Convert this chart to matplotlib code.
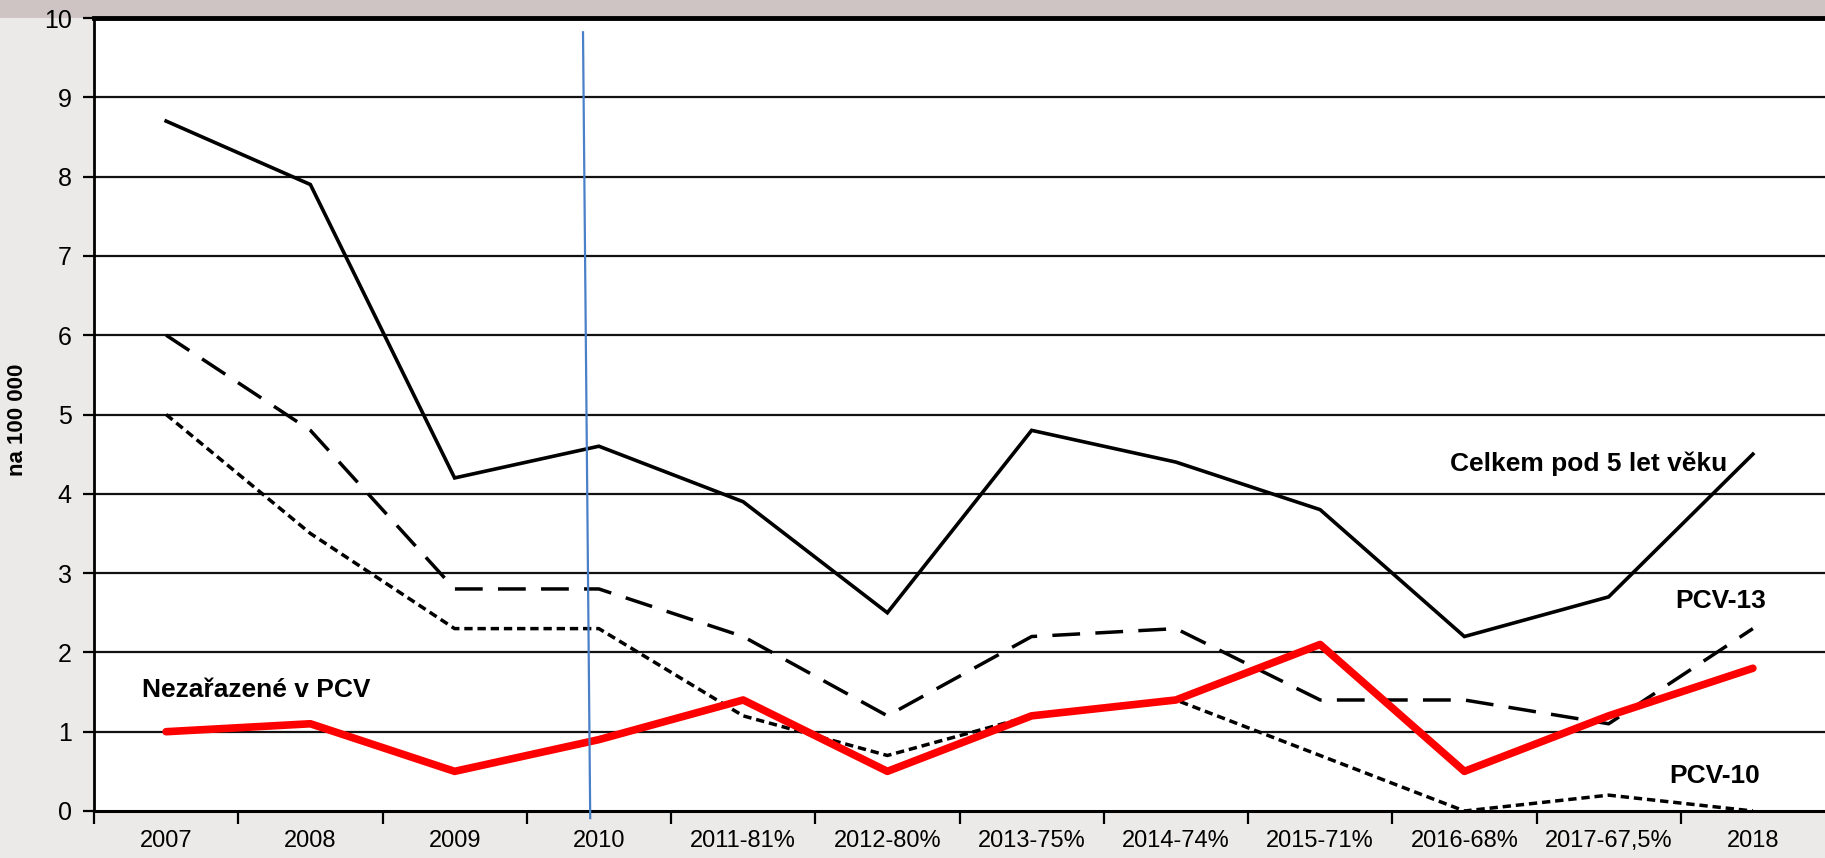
import matplotlib
matplotlib.use("Agg")
import matplotlib.pyplot as plt
from matplotlib.patches import Rectangle
from matplotlib.ticker import FixedLocator, NullFormatter

plt.rcParams['font.family'] = ['Liberation Sans', 'DejaVu Sans']
plt.rcParams['lines.scale_dashes'] = False

categories = ["2007", "2008", "2009", "2010", "2011-81%", "2012-80%", "2013-75%",
              "2014-74%", "2015-71%", "2016-68%", "2017-67,5%", "2018"]
celkem = [8.7, 7.9, 4.2, 4.6, 3.9, 2.5, 4.8, 4.4, 3.8, 2.2, 2.7, 4.5]
pcv13 = [6.0, 4.8, 2.8, 2.8, 2.2, 1.2, 2.2, 2.3, 1.4, 1.4, 1.1, 2.3]
pcv10 = [5.0, 3.5, 2.3, 2.3, 1.2, 0.7, 1.2, 1.4, 0.7, 0.0, 0.2, 0.0]
nezarazene = [1.0, 1.1, 0.5, 0.9, 1.4, 0.5, 1.2, 1.4, 2.1, 0.5, 1.2, 1.8]
yticks = list(range(0, 11))

W, H = 1825, 858
fig = plt.figure(figsize=(W / 100, H / 100), dpi=100, facecolor='#ece9e9')
# top banner
fig.patches.append(Rectangle((0, 1 - 18 / H), 1, 18 / H, transform=fig.transFigure,
                             facecolor='#cec4c3', edgecolor='none', zorder=-5))

left, right, top, bottom = 94, 1825, 18, 811
ax = fig.add_axes([left / W, (H - bottom) / H, (right - left) / W, (bottom - top) / H])
ax.set_facecolor('white')

x = list(range(len(categories)))
ax.set_xlim(-0.5, len(categories) - 0.5)
ax.set_ylim(0, 10)

for yv in yticks[1:-1]:
    ax.axhline(yv, color='#111111', lw=1.6, zorder=1)

ax.plot(x, celkem, color='black', lw=2.6, zorder=3, solid_joinstyle='miter')
ax.plot(x, pcv13, color='black', lw=2.5, dashes=(20, 11), zorder=3)
ax.plot(x, pcv10, color='black', lw=2.5, dashes=(6, 3.5), zorder=3)
ax.plot(x, nezarazene, color='#ff0000', lw=5.5, zorder=4, solid_capstyle='round',
        solid_joinstyle='round')

# vertical marker line (vaccination start)
ax.plot([2.89, 2.94], [9.82, -0.09], color='#4a80c8', lw=1.6, zorder=5, clip_on=False)

ax.spines['right'].set_visible(False)
ax.spines['top'].set_linewidth(3.5)
ax.spines['bottom'].set_linewidth(2.2)
ax.spines['left'].set_linewidth(2.0)

ax.set_yticks(yticks)
ax.tick_params(axis='y', length=8, width=1.6, pad=8, labelsize=18)

ax.xaxis.set_major_locator(FixedLocator([i - 0.5 for i in range(len(categories))]))
ax.xaxis.set_major_formatter(NullFormatter())
ax.xaxis.set_minor_locator(FixedLocator(x))
ax.set_xticklabels(categories, minor=True)
ax.tick_params(axis='x', which='major', length=9, width=1.6)
ax.tick_params(axis='x', which='minor', length=0, pad=14, labelsize=17)

fig.text(18 / W, 1 - 420 / H, "na 100 000", rotation=90, fontsize=16, fontweight='bold',
         ha='center', va='center')

ax.text(8.9, 4.38, "Celkem pod 5 let věku", fontsize=19, fontweight='bold', ha='left',
        va='center')
ax.text(10.46, 2.65, "PCV-13", fontsize=19, fontweight='bold', ha='left', va='center')
ax.text(10.42, 0.44, "PCV-10", fontsize=19, fontweight='bold', ha='left', va='center')
ax.text(-0.17, 1.52, "Nezařazené v PCV", fontsize=19, fontweight='bold', ha='left',
        va='center')

fig.savefig("out.png", dpi=100, facecolor=fig.get_facecolor())
